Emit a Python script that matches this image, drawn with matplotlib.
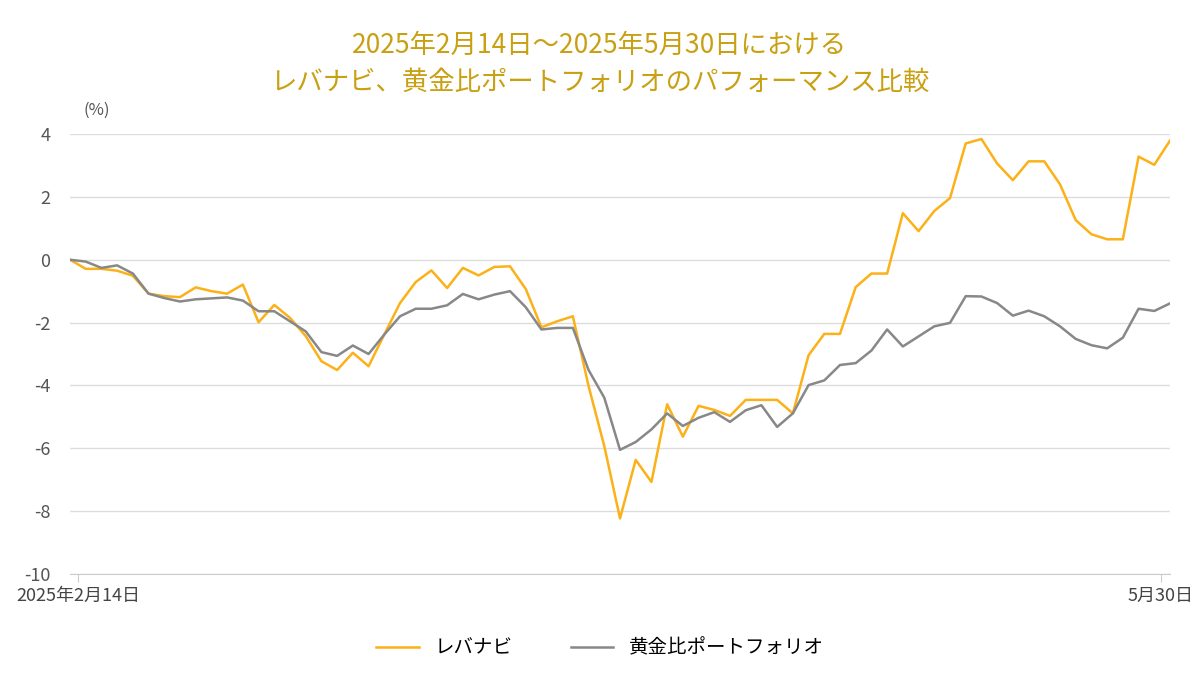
import matplotlib
matplotlib.use('Agg')
import matplotlib.pyplot as plt
import numpy as np

plt.rcParams['font.family'] = ['Noto Sans CJK JP', 'DejaVu Sans']
plt.rcParams['axes.unicode_minus'] = False

# daily cumulative return (%) from 2025-02-14 to 2025-05-30
levanabi = [0, -0.29, -0.29, -0.35, -0.51, -1.08, -1.16, -1.19, -0.88, -1.0,
            -1.08, -0.79, -1.99, -1.44, -1.85, -2.43, -3.23, -3.51, -2.96, -3.39,
            -2.38, -1.38, -0.71, -0.34, -0.9, -0.26, -0.5, -0.23, -0.21, -0.93,
            -2.15, -1.96, -1.8, -4.02, -5.93, -8.23, -6.37, -7.07, -4.6, -5.63,
            -4.65, -4.78, -4.97, -4.46, -4.46, -4.46, -4.89, -3.04, -2.36, -2.36,
            -0.87, -0.44, -0.44, 1.48, 0.91, 1.55, 1.96, 3.70, 3.84, 3.06,
            2.53, 3.13, 3.13, 2.40, 1.26, 0.81, 0.65, 0.65, 3.28, 3.02, 3.79]
gold_port = [0, -0.06, -0.26, -0.18, -0.44, -1.08, -1.22, -1.33, -1.26, -1.23,
             -1.2, -1.3, -1.64, -1.64, -1.96, -2.28, -2.94, -3.06, -2.73, -3.0,
             -2.38, -1.8, -1.56, -1.56, -1.45, -1.09, -1.26, -1.11, -1.0, -1.51,
             -2.22, -2.17, -2.17, -3.51, -4.39, -6.05, -5.8, -5.4, -4.89, -5.29,
             -5.03, -4.85, -5.16, -4.79, -4.63, -5.32, -4.89, -3.99, -3.84, -3.35,
             -3.29, -2.89, -2.22, -2.76, -2.44, -2.12, -2.01, -1.16, -1.17, -1.38,
             -1.78, -1.62, -1.8, -2.12, -2.52, -2.72, -2.82, -2.48, -1.56, -1.63, -1.39]
x_labels = ['2025年2月14日', '5月30日']

fig = plt.figure(figsize=(12, 6.8), dpi=100)
ax = fig.add_axes([70/1200, 1-574/680, 1100/1200, 440/680])
x = np.arange(len(levanabi))
ax.plot(x, levanabi, color='#FBB117', lw=1.8, label='レバナビ')
ax.plot(x, gold_port, color='#888888', lw=1.8, label='黄金比ポートフォリオ')

ax.set_xlim(0, len(x) - 1)
ax.set_ylim(-10, 4)
ax.set_yticks(range(-10, 5, 2))
ax.tick_params(axis='y', length=0, labelsize=13, colors='#555555', pad=14)
ax.set_xticks([0.5, len(x) - 1.6])
ax.set_xticklabels(x_labels)
ax.tick_params(axis='x', length=6, color='#cccccc', labelsize=13, colors='#444444')
ax.grid(axis='y', color='#dddddd', lw=1)
for s in ['top', 'right', 'left']:
    ax.spines[s].set_visible(False)
ax.spines['bottom'].set_color('#cccccc')

fig.text(97/1200, 1-110/680, '(%)', fontsize=12, color='#555555', ha='center', va='center')
fig.text(0.5, 1-45/680, '2025年2月14日～2025年5月30日における', fontsize=19,
         color='#C9A012', ha='center', va='center')
fig.text(0.5, 1-82/680, 'レバナビ、黄金比ポートフォリオのパフォーマンス比較', fontsize=19,
         color='#C9A012', ha='center', va='center')
fig.legend(loc='center', bbox_to_anchor=(0.5, 1-648/680), ncol=2, frameon=False,
           fontsize=14, handlelength=2.2, columnspacing=3)

plt.savefig('out.png')
